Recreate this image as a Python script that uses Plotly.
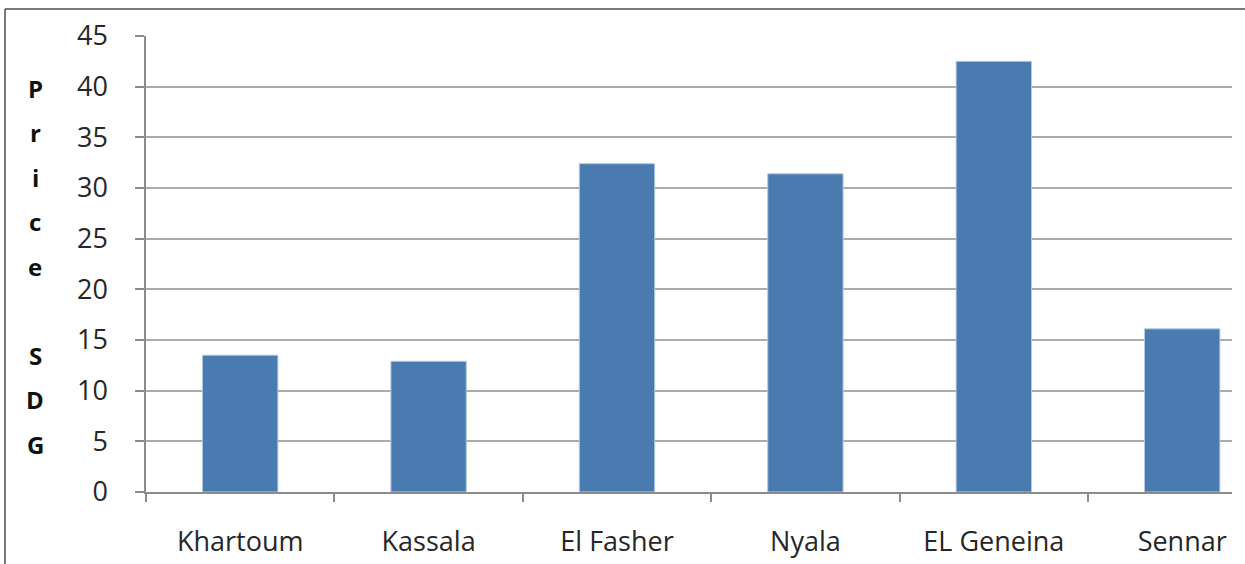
import plotly.graph_objects as go

cities = ["Khartoum", "Kassala", "El Fasher", "Nyala", "EL Geneina", "Sennar"]
prices = [13.5, 12.9, 32.4, 31.4, 42.5, 16.1]
y_ticks = [0, 5, 10, 15, 20, 25, 30, 35, 40, 45]
title_letters = ["P", "r", "i", "c", "e", "", "S", "D", "G"]

W, H = 1245, 564
L, R, T, B = 146, 13, 36, 72
plot_h = H - T - B
plot_w = W - L - R

fig = go.Figure()
fig.add_trace(go.Bar(
    x=cities, y=prices, width=0.4,
    marker=dict(color="#4A7BB0", line=dict(color="#B4C8E0", width=1)),
    hoverinfo="x+y",
))

font_main = "Open Sans, Liberation Sans, sans-serif"

annotations = []
top_px, step_px = 88, 44.5
for i, ch in enumerate(title_letters):
    if not ch:
        continue
    py = top_px + i * step_px
    annotations.append(dict(
        text=f"<b>{ch}</b>", xref="paper", yref="paper",
        x=(35 - L) / plot_w, y=(H - B - py) / plot_h,
        xanchor="center", yanchor="middle", showarrow=False,
        font=dict(family=font_main, size=24, color="#111111"),
    ))

def px_x(px):
    return (px - L) / plot_w

def px_y(py):
    return (H - B - py) / plot_h

shapes = [
    dict(type="line", xref="paper", yref="paper",
         x0=px_x(5), x1=px_x(W + 20), y0=px_y(9), y1=px_y(9),
         line=dict(color="#4d4d4d", width=1.5)),
    dict(type="line", xref="paper", yref="paper",
         x0=px_x(5), x1=px_x(5), y0=px_y(9), y1=px_y(H + 20),
         line=dict(color="#4d4d4d", width=1.5)),
]

fig.update_layout(
    width=W, height=H,
    margin=dict(l=L, r=R, t=T, b=B, autoexpand=False),
    paper_bgcolor="white", plot_bgcolor="white",
    showlegend=False,
    annotations=annotations,
    shapes=shapes,
    xaxis=dict(
        type="category",
        range=[-0.5, -0.5 + plot_w / 188.4],
        tickson="boundaries",
        ticks="outside", ticklen=8, tickcolor="#8c8c8c", tickwidth=1.5,
        showline=True, linecolor="#8c8c8c", linewidth=1.5,
        showgrid=False, automargin=False,
        ticklabelstandoff=25,
        tickfont=dict(family=font_main, size=27, color="#262626"),
    ),
    yaxis=dict(
        range=[0, 45],
        tickvals=y_ticks,
        ticks="outside", ticklen=9, tickcolor="#8c8c8c", tickwidth=1.5,
        showline=True, linecolor="#8c8c8c", linewidth=1.5,
        showgrid=True, gridcolor="#ababab", gridwidth=1.5,
        zeroline=False, automargin=False,
        ticklabelstandoff=22,
        tickfont=dict(family=font_main, size=27, color="#262626"),
    ),
)

fig.write_html("out.html", config={"displayModeBar": False},
               post_script="document.body.style.margin='0';document.body.style.overflow='hidden';")
